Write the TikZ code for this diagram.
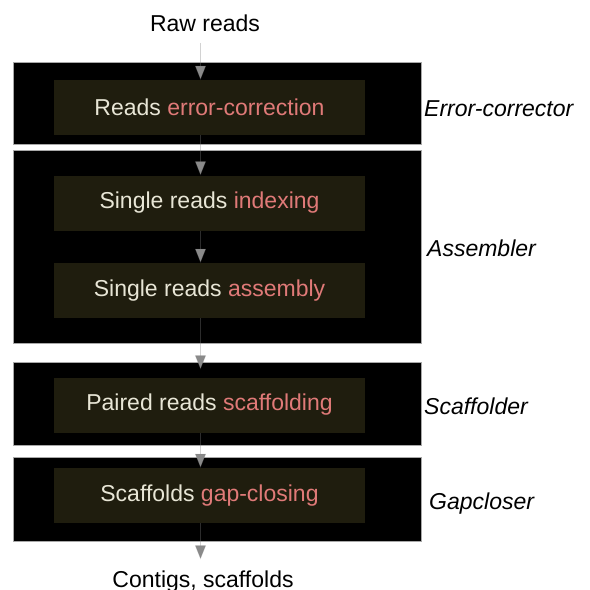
\documentclass[tikz,border=0pt]{standalone}
\usepackage{fontspec}
\setmainfont{Liberation Sans}
\usetikzlibrary{arrows.meta,positioning}

\definecolor{stagefill}{HTML}{1F1D0E}
\definecolor{stagetext}{HTML}{E8E6D6}
\definecolor{hilite}{HTML}{E07A78}
\definecolor{toolborder}{HTML}{A8A8A8}
\definecolor{flowgray}{HTML}{8A8A8A}

\begin{document}
\begin{tikzpicture}[
    x=1pt, y=-1pt,
    font=\fontsize{23}{27}\selectfont,
    tool/.style={rectangle, draw=toolborder, line width=1pt, fill=black, minimum width=408pt, inner sep=0pt},
    stage/.style={rectangle, fill=stagefill, text=stagetext, align=center, minimum width=311pt, minimum height=55pt, inner sep=0pt},
    toolname/.style={anchor=base west, inner sep=0pt, font=\fontsize{23}{27}\selectfont\itshape},
    arrow/.style={draw=gray, draw opacity=0.35, line width=0.8pt, -{Triangle[width=11pt, length=14pt, fill=flowgray]}}
]
\useasboundingbox[fill=white] (0,0) rectangle (590,590);

% tools
\node[tool, minimum height=82pt] (corrector) at (217,103) {};
\node[tool, minimum height=193pt] (assembler) at (217,246.5) {};
\node[tool, minimum height=83pt] (scaffolder) at (217,403.5) {};
\node[tool, minimum height=84pt] (gapcloser) at (217,499) {};

% stages
\node[stage] (correct) at (209.5,107.5) {Reads \textcolor{hilite}{error-correction}};
\node[stage] (index) at (209.5,203) {Single reads \textcolor{hilite}{indexing}};
\node[stage] (assemble) at (209.5,290.5) {Single reads \textcolor{hilite}{assembly}};
\node[stage] (scaffold) at (209.5,405) {Paired reads \textcolor{hilite}{scaffolding}};
\node[stage] (gapclose) at (209.5,495.5) {Scaffolds \textcolor{hilite}{gap-closing}};

% input and output
\node[anchor=base] (raw) at (205,31) {Raw reads};
\node[anchor=base] (contigs) at (203,587.5) {Contigs, scaffolds};

% tool names
\node[toolname] (correctorname) at (424,116) {Error-corrector};
\node[toolname] (assemblername) at (427,256) {Assembler};
\node[toolname] (scaffoldername) at (424,414) {Scaffolder};
\node[toolname] (gapclosername) at (429,509) {Gapcloser};

% flow
\coordinate (flow) at (200.5,0);
\draw[arrow, shorten <=8pt] (raw.south -| flow) -- (correct.north -| flow);
\draw[arrow] (correct.south -| flow) -- (index.north -| flow);
\draw[arrow] (index.south -| flow) -- (assemble.north -| flow);
\draw[arrow, shorten >=8pt] (assemble.south -| flow) -- (scaffold.north -| flow);
\draw[arrow] (scaffold.south -| flow) -- (gapclose.north -| flow);
\draw[arrow, shorten >=8pt] (gapclose.south -| flow) -- (contigs.north -| flow);
\end{tikzpicture}
\end{document}
